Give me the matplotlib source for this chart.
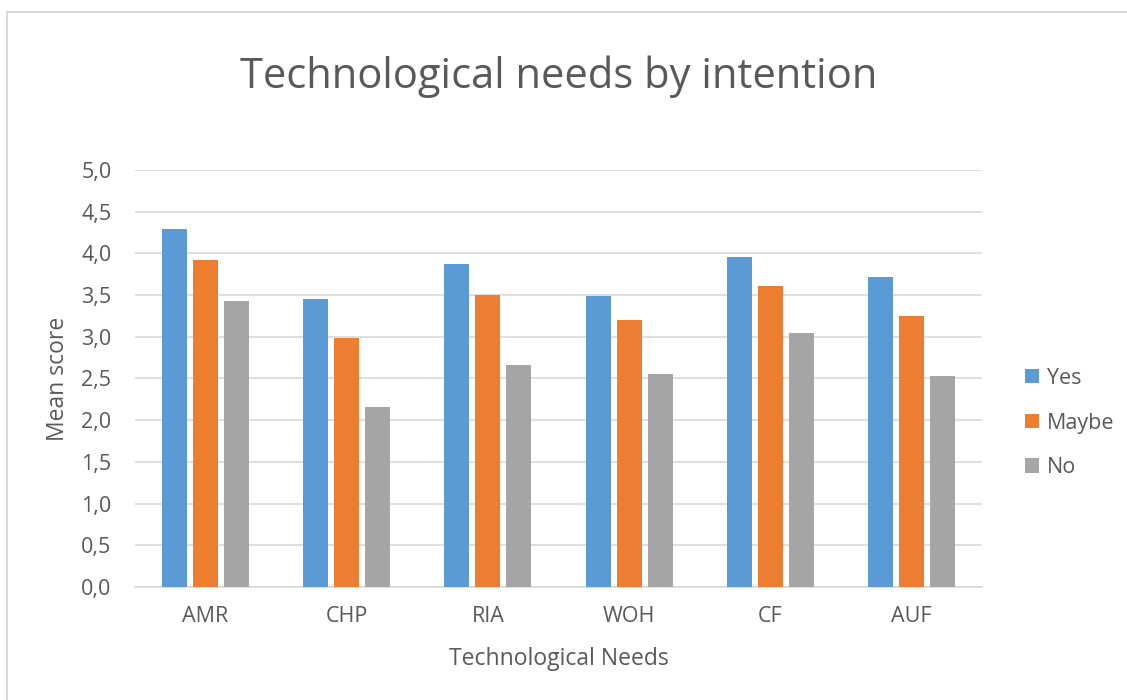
import matplotlib
matplotlib.use("Agg")
import matplotlib.pyplot as plt
import numpy as np

categories = ["AMR", "CHP", "RIA", "WOH", "CF", "AUF"]
series_names = ["Yes", "Maybe", "No"]
yes_vals = [4.29, 3.45, 3.87, 3.49, 3.96, 3.72]
maybe_vals = [3.92, 2.99, 3.50, 3.20, 3.61, 3.25]
no_vals = [3.43, 2.16, 2.66, 2.55, 3.05, 2.53]
colors = ["#5B9BD5", "#ED7D31", "#A5A5A5"]
yticks = [0.0, 0.5, 1.0, 1.5, 2.0, 2.5, 3.0, 3.5, 4.0, 4.5, 5.0]

plt.rcParams['font.family'] = ['Open Sans', 'DejaVu Sans']
txt = "#595959"

fig = plt.figure(figsize=(11.27, 7.0), dpi=100)
W, H = 1127, 700
ax = fig.add_axes([135 / W, 1 - 587 / H, (982 - 135) / W, (587 - 170) / H])

x = np.arange(len(categories))
width = 0.177
step = 0.22
for i, (name, vals) in enumerate(zip(series_names, [yes_vals, maybe_vals, no_vals])):
    ax.bar(x + (i - 1) * step, vals, width, color=colors[i], label=name, zorder=3)

ax.set_xlim(-0.5, len(categories) - 0.5)
ax.set_ylim(0, 5.0)
ax.set_yticks(yticks)
ax.set_yticklabels([f"{v:.1f}".replace(".", ",") for v in yticks])
ax.set_xticks(x)
ax.set_xticklabels(categories)
ax.grid(axis='y', color="#D9D9D9", linewidth=1.2, zorder=0)
for s in ["top", "right", "left"]:
    ax.spines[s].set_visible(False)
ax.spines["bottom"].set_color("#D9D9D9")
ax.spines["bottom"].set_linewidth(1.2)
ax.tick_params(axis='both', length=0, labelsize=15.5, colors=txt)
ax.tick_params(axis='y', pad=17)
ax.tick_params(axis='x', pad=14)
ax.set_xlabel("Technological Needs", fontsize=16.5, color=txt, labelpad=14)
ax.set_ylabel("Mean score", fontsize=16.5, color=txt, labelpad=8)

fig.text(559 / W, 1 - 77 / H, "Technological needs by intention", fontsize=30,
         color=txt, ha='center', va='center')

leg = fig.legend(loc='center left', bbox_to_anchor=(1006 / W, 1 - 423 / H), frameon=False,
                 fontsize=15.5, labelcolor=txt, handlelength=0.65, handleheight=0.65,
                 handletextpad=0.35, labelspacing=1.1)

# chart border (top and left visible)
fig.add_artist(plt.Line2D([7 / W, 7 / W], [0, 1 - 12 / H], transform=fig.transFigure,
                          color="#D9D9D9", linewidth=1.5))
fig.add_artist(plt.Line2D([7 / W, 1], [1 - 12 / H, 1 - 12 / H], transform=fig.transFigure,
                          color="#D9D9D9", linewidth=1.5))

fig.savefig("out.png", dpi=100)
